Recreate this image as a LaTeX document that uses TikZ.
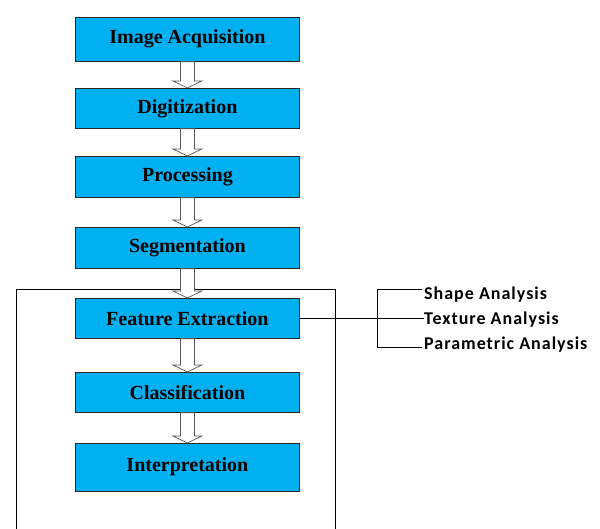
\documentclass[tikz,border=0pt]{standalone}
\usepackage{fontspec}
\setmainfont{Liberation Serif}
\newfontfamily\labelfont[LetterSpace=5.5]{Carlito}
\usetikzlibrary{calc}
\definecolor{boxblue}{HTML}{00B0F0}
\tikzset{
  stage/.style={draw=black!85, line width=0.8pt, fill=boxblue, anchor=north west,
    minimum width=224pt, inner sep=0pt, font=\fontsize{20}{22}\selectfont\bfseries},
  barrow/.style={draw=black!65, fill=white, line width=0.7pt, line join=miter},
  plain/.style={draw=black, line width=0.7pt},
  side/.style={anchor=west, inner sep=0pt, font=\labelfont\fontsize{18}{20}\selectfont\bfseries}
}
\newcommand\blockarrow[2]{%
  \draw[barrow] let \p1=(#1.south), \p2=(#2.north) in
    (\x1-7pt,\y1) -- (\x1+7pt,\y1) -- (\x1+7pt,\y2+7pt) -- (\x1+14.5pt,\y2+7pt)
    -- (\x1,\y2) -- (\x1-14.5pt,\y2+7pt) -- (\x1-7pt,\y2+7pt) -- cycle;}
\begin{document}
\begin{tikzpicture}[x=1pt,y=1pt]
\useasboundingbox (0,0) rectangle (600,529);
% outer frame (bottom edge outside the picture)
\draw[plain] (16,0) -- (16,240) -- (335,240) -- (335,0);
% stages
\node[stage, minimum height=44pt] (s1) at (75,512) {\raisebox{5pt}{Image Acquisition}};
\node[stage, minimum height=40pt] (s2) at (75,441) {Digitization};
\node[stage, minimum height=41pt] (s3) at (75,373) {Processing};
\node[stage, minimum height=41pt] (s4) at (75,302) {Segmentation};
\node[stage, minimum height=40pt] (s5) at (75,231) {Feature Extraction};
\node[stage, minimum height=40pt] (s6) at (75,157) {Classification};
\node[stage, minimum height=48pt] (s7) at (75,86) {\raisebox{6pt}{Interpretation}};
% block arrows
\blockarrow{s1}{s2}
\blockarrow{s2}{s3}
\blockarrow{s3}{s4}
\blockarrow{s4}{s5}
\blockarrow{s5}{s6}
\blockarrow{s6}{s7}
% side labels
\node[side] (t1) at (424,234) {Shape Analysis};
\node[side] (t2) at (424,209) {Texture Analysis};
\node[side] (t3) at (424,184) {Parametric Analysis};
\coordinate (bt) at (377,240);
\coordinate (bb) at (377,182);
\draw[plain] (s5.east) -- (s5.east -| t2.west);
\draw[plain] (t1.west |- bt) ++(-2pt,0) -- (bt) -- (bb) -- ([xshift=-2pt]t3.west |- bb);
\end{tikzpicture}
\end{document}
